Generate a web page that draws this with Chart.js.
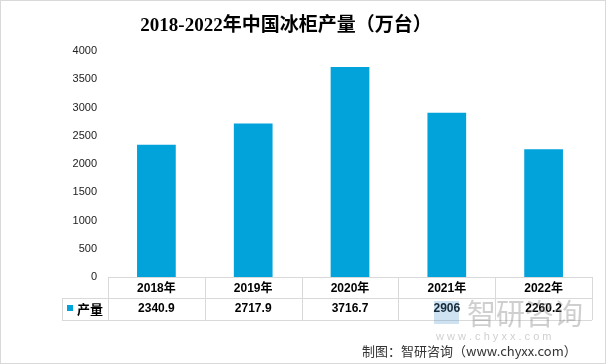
<!DOCTYPE html>
<html><head><meta charset="utf-8">
<script src="https://cdn.jsdelivr.net/npm/chart.js@4/dist/chart.umd.min.js"></script>
<style>html,body{margin:0;padding:0;background:#fff;}#wrap{width:606px;height:364px;position:relative;}</style>
</head><body><div id="wrap"><canvas id="c" width="606" height="364"></canvas></div>
<script>
const title = '2018-2022年中国冰柜产量（万台）';
const categories = ['2018年','2019年','2020年','2021年','2022年'];
const seriesName = '产量';
const values = [2340.9, 2717.9, 3716.7, 2906, 2260.2];
const valueLabels = ['2340.9','2717.9','3716.7','2906','2260.2'];
const source = '制图：智研咨询（www.chyxx.com）';
const barColor = '#02A2DB';

const tablePlugin = {
  id: 'tbl',
  afterDraw(chart) {
    const ctx = chart.ctx, x = chart.scales.x, area = chart.chartArea;
    const L = area.left, R = area.right, n = categories.length, cw = (R - L) / n;
    const y0 = 277, y1 = 298, y2 = 320, lx = 62;
    ctx.save();
    ctx.strokeStyle = '#d9d9d9'; ctx.lineWidth = 1;
    ctx.beginPath();
    ctx.moveTo(L, y0 + .5); ctx.lineTo(R, y0 + .5);
    ctx.moveTo(lx, y1 + .5); ctx.lineTo(R, y1 + .5);
    ctx.moveTo(lx, y2 + .5); ctx.lineTo(R, y2 + .5);
    for (let i = 0; i <= n; i++) { const xx = Math.round(L + i * cw) + .5; ctx.moveTo(xx, y0); ctx.lineTo(xx, y2); }
    ctx.moveTo(lx + .5, y1); ctx.lineTo(lx + .5, y2);
    ctx.stroke();
    // legend key
    ctx.fillStyle = barColor; ctx.fillRect(67, 305, 6, 6);
    ctx.fillStyle = '#000'; ctx.font = 'bold 13px "Noto Sans CJK SC"'; ctx.textBaseline = 'middle'; ctx.textAlign = 'left';
    ctx.fillText(seriesName, 77, 309);
    ctx.font = 'bold 12px "Liberation Sans", Arial'; ctx.textAlign = 'center';
    valueLabels.forEach((v, i) => ctx.fillText(v, x.getPixelForValue(i), 309));
    // watermark
    ctx.fillStyle = 'rgba(80,150,210,0.28)'; ctx.fillRect(434, 301, 25, 23);
    ctx.fillStyle = 'rgba(130,130,130,0.38)';
    ctx.font = '29px "Noto Sans CJK SC"'; ctx.textAlign = 'left';
    ctx.fillText('智研咨询', 467, 314);
    ctx.font = '11px "Liberation Sans"';
    ctx.fillText('w w w . c h y x x . c o m', 436, 337);
    // source
    ctx.fillStyle = '#333'; ctx.font = '13px "Noto Sans CJK SC"'; ctx.textAlign = 'left';
    ctx.fillText(source, 362, 351);
    // title
    ctx.fillStyle = '#000'; ctx.font = 'bold 19px "Liberation Serif", "Noto Sans CJK SC"'; ctx.textAlign = 'center';
    ctx.fillText(title, 286, 26);
    // outer border
    ctx.strokeStyle = '#d9d9d9'; ctx.strokeRect(0.5, 0.5, 605, 363);
    ctx.restore();
  }
};

new Chart(document.getElementById('c'), {
  type: 'bar',
  data: { labels: categories, datasets: [{ label: seriesName, data: values, backgroundColor: barColor, categoryPercentage: 1, barPercentage: 0.40 }] },
  options: {
    responsive: false, animation: false,
    layout: { padding: { top: 51, right: 14, left: 0, bottom: 0 } },
    plugins: { legend: { display: false }, tooltip: { enabled: false }, title: { display: false } },
    scales: {
      x: {
        grid: { display: false, drawTicks: false }, border: { display: false },
        ticks: { font: { size: 12, weight: 'bold', family: '"Liberation Sans", "Noto Sans CJK SC"' }, color: '#000', padding: 4 },
        afterFit(s) { s.height = 87; }
      },
      y: {
        min: 0, max: 4000,
        grid: { display: false, drawTicks: false }, border: { display: false },
        ticks: { stepSize: 500, callback: v => String(v), font: { size: 11, family: '"Liberation Sans", Arial' }, color: '#222', padding: 11 },
        afterFit(s) { s.width = 108; }
      }
    }
  },
  plugins: [tablePlugin]
});
</script></body></html>
